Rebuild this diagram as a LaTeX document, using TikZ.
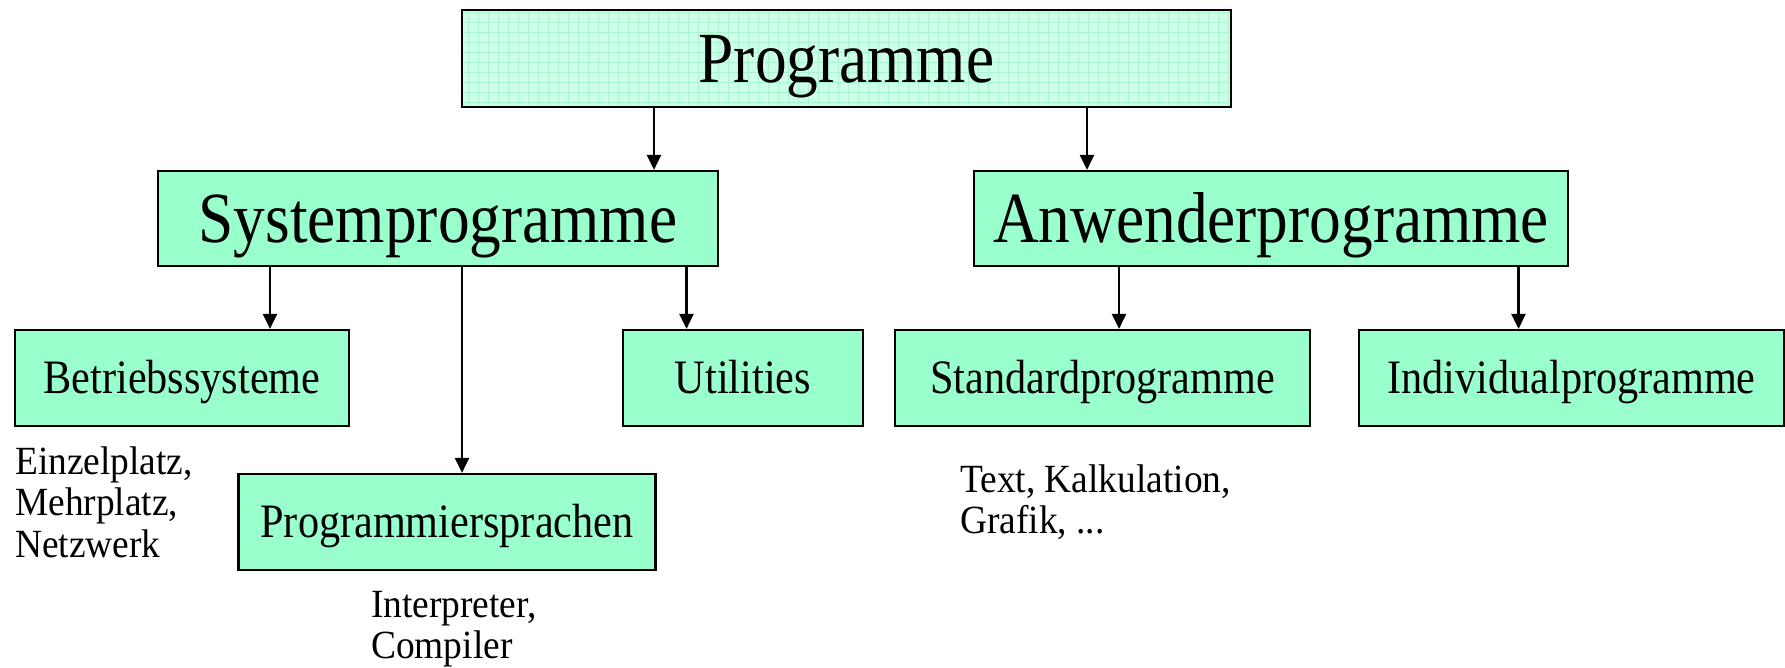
\documentclass[tikz,border=0pt]{standalone}
\usepackage{fontspec}
\setmainfont{Liberation Serif}[FakeStretch=0.88]
\newfontfamily\notefont{Liberation Serif}[FakeStretch=0.935]
\usetikzlibrary{arrows.meta}
\definecolor{boxfill}{RGB}{153,255,204}
\definecolor{topfill}{RGB}{206,255,232}
\definecolor{gridcol}{RGB}{168,246,206}
\newcommand{\stacklines}[1]{\vtop{\halign{##\hfil\cr#1\crcr}}}
\begin{document}
\begin{tikzpicture}[x=1pt,y=-1pt,
  box/.style={draw=black, line width=2.2pt, fill=boxfill, inner sep=0pt, text depth=0pt},
  bigbox/.style={box, text height=47.7pt, font=\fontsize{72}{80}\selectfont},
  smallbox/.style={box, text height=31.8pt, font=\fontsize{48}{54}\selectfont, minimum height=96pt},
  gridbox/.style={fill=topfill, path picture={
      \draw[gridcol, line width=0.8pt] (path picture bounding box.south west)
        grid[step=10pt] (path picture bounding box.north east);}},
  arr/.style={-{Triangle[length=15pt,width=14pt]}, line width=2.5pt},
  note/.style={font=\notefont\fontsize{40}{41.5}\selectfont, inner sep=0pt, anchor=base west}]
\useasboundingbox (0,0) rectangle (1785,667);

% top level
\node[bigbox, gridbox, minimum width=769pt, minimum height=97pt] (prog) at (846.5,58.5) {Programme};

% second level
\node[bigbox, minimum width=560pt, minimum height=95pt] (sys) at (438,218.5) {Systemprogramme};
\node[bigbox, minimum width=594pt, minimum height=95pt] (anw) at (1271,218.5) {Anwenderprogramme};

% third level
\node[smallbox, minimum width=334pt] (betr) at (182,378) {Betriebssysteme};
\node[smallbox, minimum width=240pt] (util) at (743,378) {Utilities};
\node[smallbox, minimum width=415pt] (std) at (1102.5,378) {Standardprogramme};
\node[smallbox, minimum width=425pt] (ind) at (1571.5,378) {Individualprogramme};
\node[smallbox, minimum width=417pt] (psp) at (447,522) {Programmiersprachen};

% connectors
\draw[arr] (654,0 |- prog.south) -- (654,0 |- sys.north);
\draw[arr] (1087,0 |- prog.south) -- (1087,0 |- anw.north);
\draw[arr] (270,0 |- sys.south) -- (270,0 |- betr.north);
\draw[arr] (462,0 |- sys.south) -- (462,0 |- psp.north);
\draw[arr] (686.5,0 |- sys.south) -- (686.5,0 |- util.north);
\draw[arr] (1119,0 |- anw.south) -- (1119,0 |- std.north);
\draw[arr] (1518.5,0 |- anw.south) -- (1518.5,0 |- ind.north);

% annotations (anchored at the baseline of their first line)
\node[note] (n1) at (15,474) {\stacklines{Einzelplatz,\cr Mehrplatz,\cr Netzwerk}};
\node[note] (n2) at (371,617) {\stacklines{Interpreter,\cr Compiler}};
\node[note] (n3) at (960,492) {\stacklines{Text, Kalkulation,\cr Grafik, ...}};
\end{tikzpicture}
\end{document}
